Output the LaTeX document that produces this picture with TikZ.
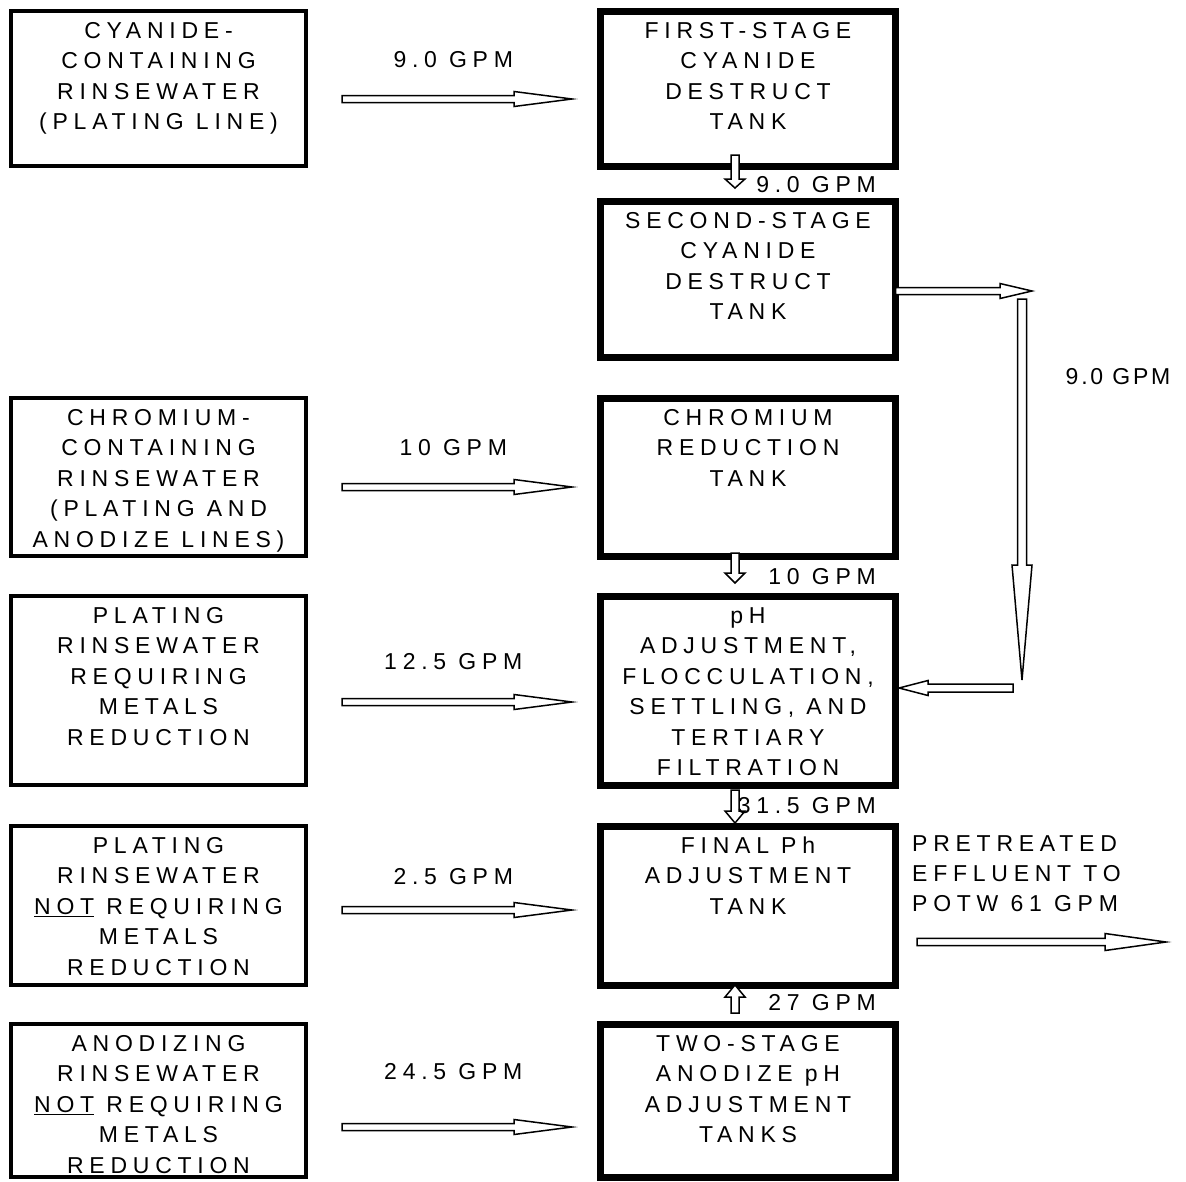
\documentclass[tikz,border=0pt]{standalone}
\usepackage{fontspec}
\newfontfamily\tankfont{Liberation Sans}[LetterSpace=25]
\usepackage{tikz}
\usetikzlibrary{positioning,calc}

\newcommand{\boxtext}[2]{\parbox[c][#1][t]{295pt}{\centering\rule{0pt}{27.5pt}#2}}
\newcommand{\flowarrow}[5]{%
  \path ($(#2)!#5!(#1)$) coordinate (fh);
  \draw[flow] ($(#1)!#3!90:(#2)$) -- ($(fh)!#3!90:(#2)$) -- ($(fh)!#4!90:(#2)$) -- (#2)
    -- ($(fh)!#4!-90:(#2)$) -- ($(fh)!#3!-90:(#2)$) -- ($(#1)!#3!-90:(#2)$) -- cycle;}

\begin{document}
\begin{tikzpicture}[x=1pt, y=1pt, font=\tankfont\fontsize{23}{30.4}\selectfont,
  box/.style={draw, line width=4pt, inner sep=0pt, outer sep=0pt},
  tank/.style={box, line width=7pt},
  flow/.style={draw, line width=1.5pt, fill=white, line join=miter},
  rate/.style={inner sep=0pt}]
\useasboundingbox (0,0) rectangle (1186,-1181);
\node[tank, anchor=north] (first) at (748,-11) {\boxtext{155pt}{FIRST-STAGE\\CYANIDE\\DESTRUCT\\TANK}};
\node[tank, below=35pt of first] (second) {\boxtext{156pt}{SECOND-STAGE\\CYANIDE\\DESTRUCT\\TANK}};
\node[tank, below=41pt of second] (chromred) {\boxtext{158pt}{CHROMIUM\\REDUCTION\\TANK}};
\node[tank, below=40pt of chromred] (ph) {\boxtext{189pt}{pH\\ADJUSTMENT,\\FLOCCULATION,\\SETTLING, AND\\TERTIARY\\FILTRATION}};
\node[tank, below=41pt of ph] (final) {\boxtext{159pt}{FINAL Ph\\ADJUSTMENT\\TANK}};
\node[tank, below=39pt of final] (anodtank) {\boxtext{153pt}{TWO-STAGE\\ANODIZE pH\\ADJUSTMENT\\TANKS}};
\node[box, left=294.5pt of first] (cyan) {\boxtext{155pt}{CYANIDE-\\CONTAINING\\RINSEWATER\\(PLATING LINE)}};
\node[box, left=294.5pt of chromred] (chrom) {\boxtext{158pt}{CHROMIUM-\\CONTAINING\\RINSEWATER\\(PLATING AND\\ANODIZE LINES)}};
\node[box, left=294.5pt of ph] (platreq) {\boxtext{189pt}{PLATING\\RINSEWATER\\REQUIRING\\METALS\\REDUCTION}};
\node[box, left=294.5pt of final] (platnot) {\boxtext{159pt}{PLATING\\RINSEWATER\\\underline{NOT} REQUIRING\\METALS\\REDUCTION}};
\node[box, left=294.5pt of anodtank] (anodrin) {\boxtext{153pt}{ANODIZING\\RINSEWATER\\\underline{NOT} REQUIRING\\METALS\\REDUCTION}};
\foreach \src/\dst/\dy/\gpm in {cyan/first/-10.5/9.0 GPM, chrom/chromred/-10/10 GPM,
    platreq/ph/-11.5/12.5 GPM, platnot/final/-4.5/2.5 GPM, anodrin/anodtank/-26.5/24.5 GPM}{
  \coordinate (\src-a) at ([xshift=36pt,yshift=\dy pt]\src.east);
  \coordinate (\src-b) at ([xshift=-28.5pt,yshift=\dy pt]\dst.west);
  \flowarrow{\src-a}{\src-b}{3.5pt}{7.5pt}{58pt}
  \node[rate] (\src-gpm) at ($(\src.east)!0.5!(\dst.west)+(0,29)$) {\gpm};
}
\coordinate (d1a) at ([xshift=-13pt,yshift=11pt]first.south);
\coordinate (d1b) at ([xshift=-13pt,yshift=13pt]second.north);
\flowarrow{d1a}{d1b}{4pt}{10pt}{9pt}
\coordinate (d2a) at ([xshift=-13pt,yshift=3pt]chromred.south);
\coordinate (d2b) at ([xshift=-13pt,yshift=13pt]ph.north);
\flowarrow{d2a}{d2b}{4pt}{10pt}{10pt}
\coordinate (d3a) at ([xshift=-13pt,yshift=-5pt]ph.south);
\coordinate (d3b) at ([xshift=-13pt,yshift=3pt]final.north);
\flowarrow{d3a}{d3b}{4pt}{10pt}{12pt}
\coordinate (u1a) at ([xshift=-13pt,yshift=11pt]anodtank.north);
\coordinate (u1b) at ([xshift=-13pt]final.south);
\flowarrow{u1a}{u1b}{4pt}{10pt}{12pt}
\node[rate, anchor=east] (g1) at ($(first.south east)!0.5!(second.north east)+(-19.5,-1)$) {9.0 GPM};
\node[rate, anchor=east] (g2) at ($(chromred.south east)!0.5!(ph.north east)+(-19.5,-1)$) {10 GPM};
\node[rate, anchor=east] (g3) at ($(ph.south east)!0.5!(final.north east)+(-19.5,0)$) {31.5 GPM};
\node[rate, anchor=east] (g4) at ($(final.south east)!0.5!(anodtank.north east)+(-19.5,2)$) {27 GPM};
\coordinate (c1) at ([yshift=-12pt]second.east);
\coordinate (c2) at ([xshift=136.5pt,yshift=-12pt]second.east);
\flowarrow{c1}{c2}{3.5pt}{7.5pt}{32pt}
\coordinate (c3) at ([xshift=126.5pt,yshift=-20pt]second.east);
\coordinate (c4) at ([xshift=126.5pt,yshift=10.5pt]ph.east);
\flowarrow{c3}{c4}{4.5pt}{10pt}{115pt}
\coordinate (c5) at ([xshift=117.5pt,yshift=2.5pt]ph.east);
\coordinate (c6) at ([xshift=3.5pt,yshift=2.5pt]ph.east);
\flowarrow{c5}{c6}{4pt}{7.5pt}{29pt}
\node[rate] (g5) at ($(second.east)+(222.5,-98)$) {\addfontfeature{LetterSpace=12}9.0 GPM};
\node[rate, anchor=north west, align=left] (potw) at ($(final.north east)+(16.5,-9)$) {PRETREATED\\EFFLUENT TO\\POTW 61 GPM};
\coordinate (o1) at ([xshift=21.5pt,yshift=-36.5pt]final.east);
\coordinate (o2) at ([xshift=270.5pt,yshift=-36.5pt]final.east);
\flowarrow{o1}{o2}{3.7pt}{8.5pt}{61pt}
\end{tikzpicture}
\end{document}
